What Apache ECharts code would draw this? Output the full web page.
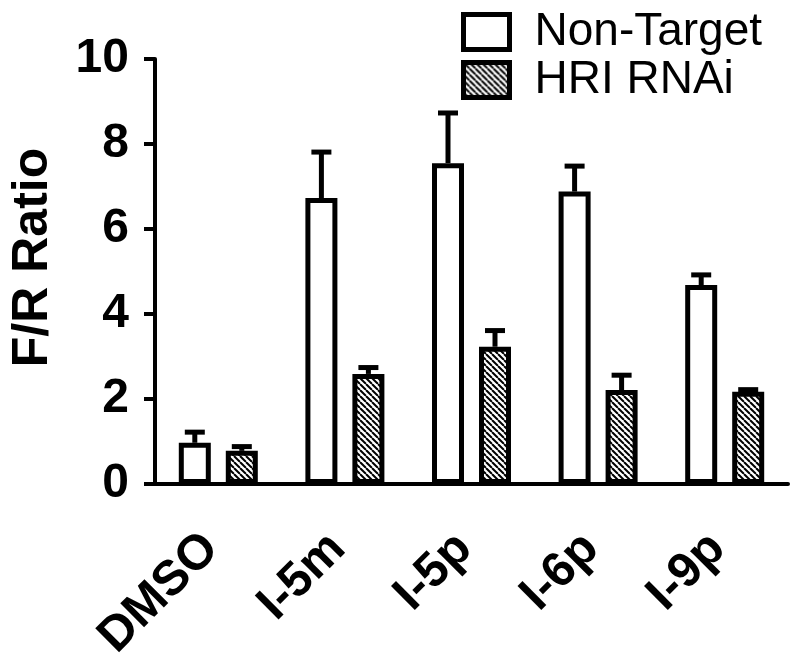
<!DOCTYPE html>
<html>
<head>
<meta charset="utf-8">
<script src="https://cdn.jsdelivr.net/npm/echarts@6/dist/echarts.min.js"></script>
<style>
html,body{margin:0;padding:0;background:#fff;}
#chart{width:800px;height:666px;}
</style>
</head>
<body>
<div id="chart"></div>
<script>
// ---- data ----
var categories = ['DMSO', 'I-5m', 'I-5p', 'I-6p', 'I-9p'];
var seriesNames = ['Non-Target', 'HRI RNAi'];
var nonTargetMean = [0.97, 6.73, 7.55, 6.88, 4.68];
var nonTargetErr  = [0.25, 1.08, 1.18, 0.60, 0.24];
var hriMean = [0.78, 2.59, 3.23, 2.21, 2.17];
var hriErr  = [0.10, 0.15, 0.38, 0.35, 0.05];
var yTicks = [0, 2, 4, 6, 8, 10];

var FONT = "'Liberation Sans', Arial, sans-serif";
var BAR_W = 32;
var BAR_GAP_PX = 15;
var OFFSET = (BAR_W + BAR_GAP_PX) / 2;

// hatch pattern
var pc = document.createElement('canvas');
pc.width = 6; pc.height = 6;
var ctx = pc.getContext('2d');
ctx.fillStyle = '#fff';
ctx.fillRect(0, 0, 6, 6);
ctx.strokeStyle = '#000';
ctx.lineWidth = 2;
[-6, 0, 6].forEach(function (k) {
  ctx.beginPath();
  ctx.moveTo(k, 0);
  ctx.lineTo(k + 6, 6);
  ctx.stroke();
});
var hatch = { image: pc, repeat: 'repeat' };

function errData(means, errs) {
  return means.map(function (m, i) { return [i, m, m + errs[i]]; });
}

function makeErrRender(offset) {
  return function (params, api) {
    var i = api.value(0);
    var base = api.coord([i, api.value(1)]);
    var top = api.coord([i, api.value(2)]);
    var x = base[0] + offset;
    var style = { stroke: '#000', lineWidth: 5 };
    return {
      type: 'group',
      children: [
        { type: 'line', shape: { x1: x, y1: base[1], x2: x, y2: top[1] }, style: style },
        { type: 'line', shape: { x1: x - 10, y1: top[1], x2: x + 10, y2: top[1] }, style: style }
      ]
    };
  };
}

var chart = echarts.init(document.getElementById('chart'), null, { renderer: 'canvas' });
chart.setOption({
  backgroundColor: '#fff',
  animation: false,
  grid: { left: 150, right: 12, top: 59, bottom: 182, containLabel: false },
  legend: {
    orient: 'vertical',
    left: 456,
    top: 4,
    icon: 'rect',
    itemWidth: 46,
    itemHeight: 35,
    itemGap: 2,
    data: seriesNames,
    itemStyle: { borderWidth: 5, borderColor: '#000' },
    textStyle: { fontFamily: FONT, fontSize: 46, color: '#000', lineHeight: 40, padding: [0, 0, 0, 20] },
    selectedMode: false
  },
  xAxis: {
    type: 'category',
    data: categories,
    axisLine: { lineStyle: { color: '#000', width: 4 } },
    axisTick: { alignWithLabel: true, length: 11, lineStyle: { color: '#000', width: 3 } },
    axisLabel: {
      interval: 0, rotate: 45, margin: 50,
      fontFamily: FONT, fontSize: 49, fontWeight: 'bold', color: '#000',
      padding: [0, 10, 0, 0]
    },
    splitLine: { show: false }
  },
  yAxis: {
    type: 'value',
    min: yTicks[0],
    max: yTicks[yTicks.length - 1],
    interval: 2,
    name: 'F/R Ratio',
    nameLocation: 'middle',
    nameRotate: 90,
    nameGap: 97,
    nameTextStyle: { fontFamily: FONT, fontSize: 50, fontWeight: 'bold', color: '#000', padding: [0, 0, 0, 28] },
    axisLine: { show: true, lineStyle: { color: '#000', width: 4 } },
    axisTick: { show: true, length: 11, lineStyle: { color: '#000', width: 4 } },
    axisLabel: { margin: 26, fontFamily: FONT, fontSize: 48, fontWeight: 'bold', color: '#000' },
    splitLine: { show: false }
  },
  series: [
    {
      name: seriesNames[0], type: 'bar', data: nonTargetMean,
      barWidth: BAR_W, barGap: (BAR_GAP_PX / BAR_W * 100) + '%',
      itemStyle: { color: '#fff', borderColor: '#000', borderWidth: 5 },
      z: 3
    },
    {
      name: seriesNames[1], type: 'bar', data: hriMean,
      barWidth: BAR_W,
      itemStyle: { color: hatch, borderColor: '#000', borderWidth: 5 },
      z: 3
    },
    {
      type: 'custom', name: 'err1', data: errData(nonTargetMean, nonTargetErr),
      renderItem: makeErrRender(-OFFSET), z: 2, silent: true
    },
    {
      type: 'custom', name: 'err2', data: errData(hriMean, hriErr),
      renderItem: makeErrRender(OFFSET), z: 2, silent: true
    }
  ]
});
</script>
</body>
</html>
